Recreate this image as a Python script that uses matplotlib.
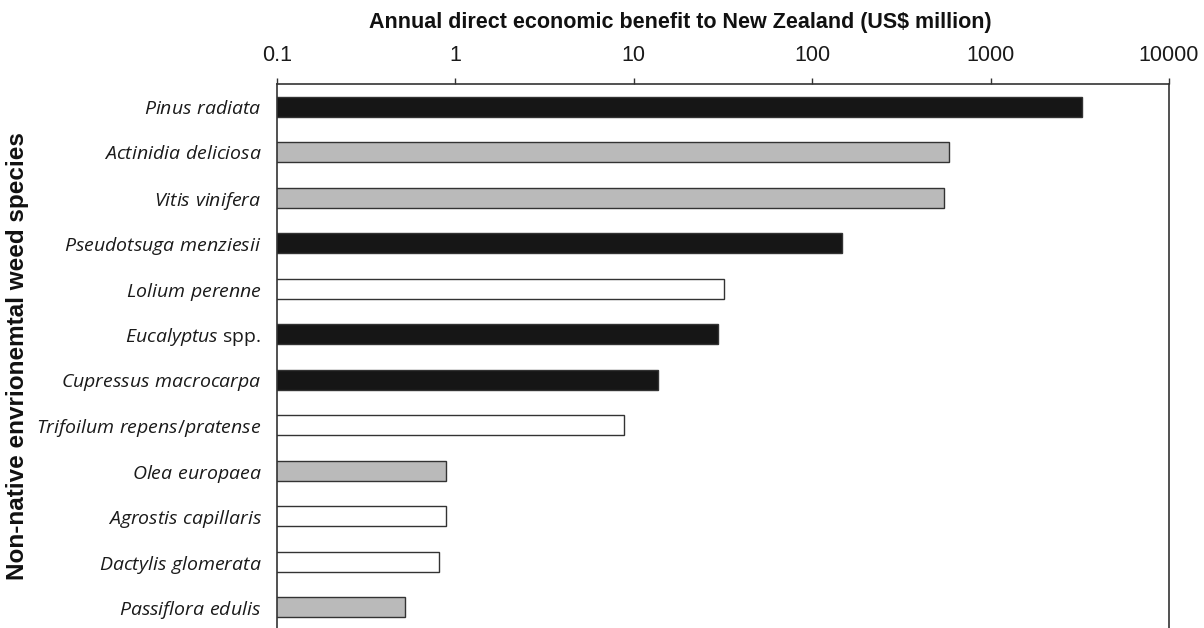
import matplotlib
matplotlib.use("Agg")
import matplotlib.pyplot as plt
from matplotlib.ticker import FixedLocator, FixedFormatter, NullLocator

species = ["Pinus radiata", "Actinidia deliciosa", "Vitis vinifera",
           "Pseudotsuga menziesii", "Lolium perenne", "Eucalyptus spp.",
           "Cupressus macrocarpa", "Trifoilum repens/pratense", "Olea europaea",
           "Agrostis capillaris", "Dactylis glomerata", "Passiflora edulis"]
benefit = [3250, 583, 546, 146, 32.2, 29.8, 13.7, 8.8, 0.89, 0.89, 0.81, 0.52]
group = ["forestry", "horticulture", "horticulture", "forestry", "pasture",
         "forestry", "forestry", "pasture", "horticulture", "pasture",
         "pasture", "horticulture"]
tick_values = [0.1, 1, 10, 100, 1000, 10000]
tick_labels = ["0.1", "1", "10", "100", "1000", "10000"]

colors = {"forestry": "#161616", "horticulture": "#bababa", "pasture": "#ffffff"}

plt.rcParams["mathtext.fontset"] = "custom"
plt.rcParams["mathtext.it"] = "Open Sans:italic"
plt.rcParams["mathtext.rm"] = "Open Sans"


def fmt(name):
    if name.endswith(" spp."):
        return r"$\mathit{%s}$ spp." % name[:-5]
    return r"$\mathit{%s}$" % name.replace(" ", r"\ ")


fig = plt.figure(figsize=(12.04, 6.28), dpi=100)
ax = fig.add_axes([277 / 1204, -2 / 628, (1169 - 277) / 1204, (630 - 84) / 628])

ypos = list(range(len(species)))
ax.barh(ypos, benefit, height=0.44, left=0,
        color=[colors[g] for g in group], edgecolor="#333333", linewidth=1.0)

ax.set_xscale("log")
ax.set_xlim(0.1, 10000)
ax.set_ylim(len(species) - 0.5, -0.5)
ax.xaxis.set_major_locator(FixedLocator(tick_values))
ax.xaxis.set_major_formatter(FixedFormatter(tick_labels))
ax.xaxis.set_minor_locator(NullLocator())
ax.xaxis.tick_top()
ax.xaxis.set_label_position("top")
ax.tick_params(axis="x", direction="out", length=4, width=1, color="#333333",
               labelsize=15.5, pad=9)
for lab in ax.get_xticklabels():
    lab.set_fontfamily("Liberation Sans")
    lab.set_color("#1a1a1a")

ax.set_yticks(ypos)
ax.set_yticklabels([fmt(s) for s in species], fontfamily="Open Sans", fontsize=14,
                   color="#1a1a1a")
ax.tick_params(axis="y", length=0, pad=11)

ax.set_xlabel("Annual direct economic benefit to New Zealand (US$ million)",
              fontfamily="Liberation Sans", fontweight="bold", fontsize=15.5,
              labelpad=12, color="#111111")
ax.xaxis.label.set_x(0.452)
fig.text(18 / 1204, 1 - 356 / 628, "Non-native envrionemtal weed species",
         rotation=90, ha="center", va="center", color="#111111",
         fontfamily="Liberation Sans", fontweight="bold", fontsize=17.5)

for side in ["top", "left", "right"]:
    ax.spines[side].set_color("#333333")
    ax.spines[side].set_linewidth(1.2)
ax.spines["bottom"].set_visible(False)

fig.savefig("out.png", dpi=100)
